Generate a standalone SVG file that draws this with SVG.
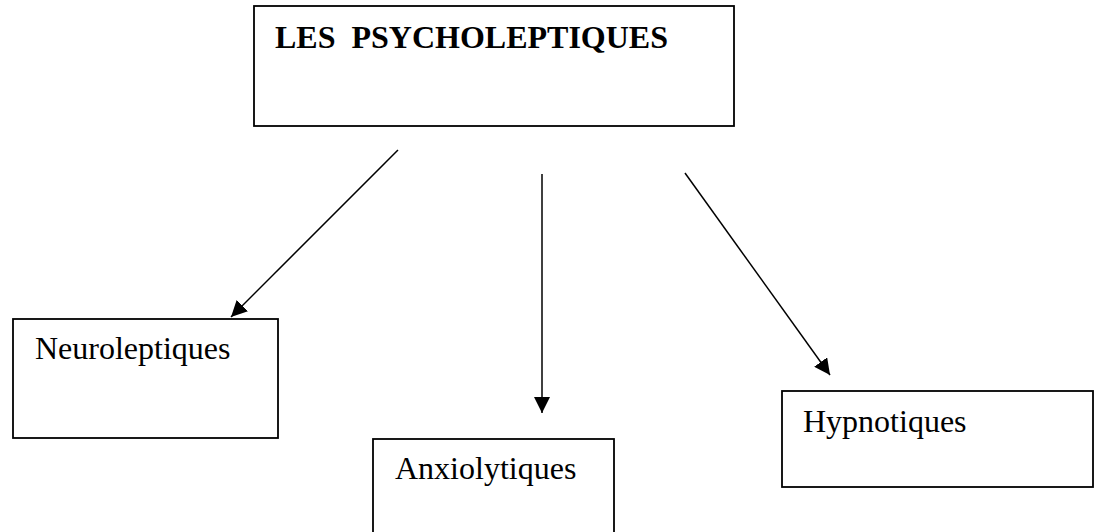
<svg xmlns="http://www.w3.org/2000/svg" width="1096" height="532" viewBox="0 0 1096 532">
<style>
.box{fill:#fff;stroke:#000;stroke-width:1.8}
.lbl{font-family:"Liberation Serif","Times New Roman",serif;font-size:32px;fill:#000}
.title{font-weight:bold}
.conn{stroke:#000;stroke-width:1.5;fill:none}
</style>
<defs>
<marker id="ah" markerUnits="userSpaceOnUse" markerWidth="17" markerHeight="16" refX="16" refY="8" orient="auto">
<path d="M0,0 L16,8 L0,16 z" fill="#000"/>
</marker>
</defs>
<rect width="1096" height="532" fill="#fff"/>
<g id="psycholeptiques">
<rect class="box" x="254" y="6" width="480" height="120"/>
<text class="lbl title" x="275" y="48" xml:space="preserve">LES  PSYCHOLEPTIQUES</text>
</g>
<g id="neuroleptiques">
<rect class="box" x="13" y="319" width="265" height="119"/>
<text class="lbl" x="35" y="359">Neuroleptiques</text>
</g>
<g id="anxiolytiques">
<rect class="box" x="373" y="439" width="241" height="110"/>
<text class="lbl" x="395" y="479">Anxiolytiques</text>
</g>
<g id="hypnotiques">
<rect class="box" x="782" y="391" width="311" height="96"/>
<text class="lbl" x="803" y="432">Hypnotiques</text>
</g>
<g id="connectors">
<line class="conn" x1="398" y1="150" x2="231" y2="317" marker-end="url(#ah)"/>
<line class="conn" x1="542" y1="174" x2="542" y2="413" marker-end="url(#ah)"/>
<line class="conn" x1="685" y1="173" x2="830" y2="375" marker-end="url(#ah)"/>
</g>
</svg>
